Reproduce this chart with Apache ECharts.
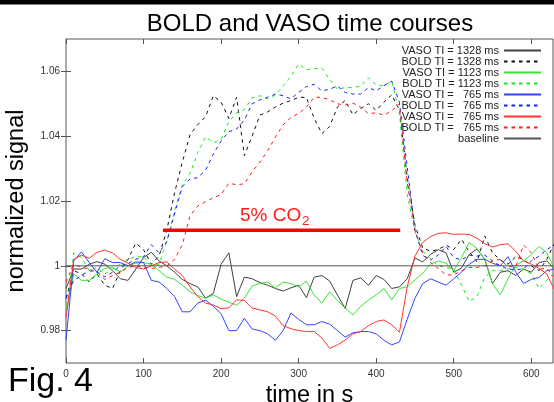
<!DOCTYPE html>
<html>
<head>
<meta charset="utf-8">
<title>BOLD and VASO time courses</title>
<script src="https://cdn.jsdelivr.net/npm/echarts@6.0.0/dist/echarts.min.js"></script>
<style>
html, body { margin: 0; padding: 0; background: #fff; }
#main { width: 554px; height: 402px; }
</style>
</head>
<body>
<div id="main"></div>
<script>
// time axis (s), one sample every 10 s
var times = [0, 10, 20, 30, 40, 50, 60, 70, 80, 90,
  100, 110, 120, 130, 140, 150, 160, 170, 180, 190,
  200, 210, 220, 230, 240, 250, 260, 270, 280, 290,
  300, 310, 320, 330, 340, 350, 360, 370, 380, 390,
  400, 410, 420, 430, 440, 450, 460, 470, 480, 490,
  500, 510, 520, 530, 540, 550, 560, 570, 580, 590,
  600, 610, 620, 630];

// VASO TI = 1328 ms (black solid)
var vaso1328 = [0.993, 0.999, 0.999, 1.0005, 1.0013, 1.0005, 0.9985, 0.996, 0.9955, 0.999,
  1.0025, 1.0042, 1.0015, 1.0, 0.998, 0.9958, 0.9945, 0.9935, 0.990, 0.9915,
  1.0005, 1.004, 0.9905, 0.9965, 0.996, 0.9948, 0.994, 0.993, 0.9922, 0.9932,
  0.994, 0.9902, 0.9965, 0.997, 0.9953, 0.991, 0.9868, 0.9955, 0.9963, 0.994,
  0.997, 0.9958, 0.993, 0.9935, 0.996, 1.0024, 1.0012, 1.0035, 1.005, 1.004,
  0.998, 0.9993, 1.0035, 1.0052, 1.002, 0.9945, 0.998, 0.9985, 0.997, 0.999,
  0.998, 1.001, 1.0015, 0.999];
// BOLD TI = 1328 ms (black dashed)
var bold1328 = [0.99, 0.9985, 0.9975, 0.995, 0.9975, 0.994, 0.993, 0.9985, 1.002, 1.007,
  1.005, 1.0005, 1.003, 1.011, 1.0225, 1.032, 1.0405, 1.0436, 1.046, 1.0525,
  1.0505, 1.0455, 1.052, 1.034, 1.04, 1.0465, 1.0475, 1.049, 1.0502, 1.051,
  1.052, 1.052, 1.0455, 1.0408, 1.043, 1.049, 1.051, 1.0466, 1.0486, 1.05,
  1.048, 1.0505, 1.0528, 1.048, 1.0274, 1.0125, 1.0055, 1.0045, 1.005, 1.0064,
  1.005, 1.0082, 1.0043, 1.0012, 1.0092, 1.004, 1.0018, 1.0005, 1.0028, 1.002,
  1.0, 0.9985, 1.002, 1.007];
// VASO TI = 1123 ms (green solid)
var vaso1123 = [0.985, 0.9975, 0.9955, 0.9955, 0.9975, 0.9992, 0.9995, 0.998, 1.0, 1.0008,
  1.001, 1.0005, 0.9985, 0.9965, 0.9958, 0.994, 0.992, 0.9908, 0.990, 0.991,
  0.9897, 0.9888, 0.9878, 0.990, 0.9938, 0.9945, 0.995, 0.9932, 0.995, 0.9945,
  0.9935, 0.9952, 0.991, 0.9885, 0.992, 0.9893, 0.987, 0.9848, 0.9875, 0.9894,
  0.991, 0.993, 0.9895, 0.993, 0.9935, 0.9956, 0.9977, 1.0005, 1.0015, 1.0008,
  0.9985, 1.0025, 1.0072, 1.0053, 1.002, 0.9945, 0.991, 0.996, 1.0002, 1.0015,
  1.0035, 1.006, 1.004, 0.999];
// BOLD TI = 1123 ms (green dashed)
var bold1123 = [0.985, 1.004, 1.0025, 0.9985, 0.9995, 0.9975, 0.999, 1.0005, 1.002, 1.0028,
  1.0028, 1.0, 1.0005, 1.0075, 1.017, 1.025, 1.0285, 1.035, 1.0398, 1.038,
  1.039, 1.0445, 1.0472, 1.0482, 1.0518, 1.0525, 1.0515, 1.0528, 1.0555, 1.0585,
  1.0623, 1.0605, 1.0608, 1.061, 1.0575, 1.0545, 1.055, 1.055, 1.0555, 1.058,
  1.0558, 1.0556, 1.057, 1.047, 1.022, 1.0105, 1.0045, 1.0022, 1.0, 0.9995,
  0.999, 0.994, 0.989, 0.9905, 0.9965, 0.9985, 0.9985, 0.999, 0.9995, 0.999,
  0.9975, 0.993, 0.9955, 0.998];
// VASO TI = 765 ms (blue solid)
var vaso765b = [0.977, 1.0015, 1.0043, 1.001, 0.998, 1.0022, 1.001, 1.001, 1.0, 1.0012,
  1.001, 0.9955, 0.995, 0.993, 0.9905, 0.9858, 0.9858, 0.9885, 0.9894, 0.9875,
  0.9852, 0.980, 0.980, 0.9838, 0.9805, 0.980, 0.979, 0.977, 0.980, 0.9854,
  0.9835, 0.9818, 0.9818, 0.9828, 0.982, 0.980, 0.978, 0.9793, 0.9797, 0.9797,
  0.979, 0.977, 0.9756, 0.9765, 0.9835, 0.990, 0.9945, 0.996, 0.995, 0.994,
  0.996, 0.998, 1.0005, 1.002, 1.002, 1.0008, 1.0, 1.0028, 0.998, 0.9946,
  0.9958, 0.9964, 0.9985, 0.999];
// BOLD TI = 765 ms (blue dashed)
var bold765b = [0.99, 0.9955, 0.997, 0.9985, 0.998, 0.9966, 0.998, 1.0, 1.0007, 1.002,
  1.0028, 1.0065, 1.004, 1.0075, 1.016, 1.0245, 1.0268, 1.0272, 1.0295, 1.0345,
  1.0385, 1.0414, 1.0422, 1.045, 1.05, 1.0512, 1.052, 1.053, 1.0525, 1.0515,
  1.0535, 1.0553, 1.056, 1.054, 1.0545, 1.0555, 1.0535, 1.053, 1.053, 1.055,
  1.054, 1.0556, 1.057, 1.0505, 1.0305, 1.011, 1.0032, 1.0018, 1.0033, 1.006,
  1.0025, 1.0018, 1.0033, 1.003, 1.0033, 1.0015, 1.0, 0.999, 0.9988, 0.999,
  1.0015, 1.003, 1.005, 1.0065];
// VASO TI = 765 ms (red solid)
var vaso765r = [0.984, 1.002, 1.0033, 1.0023, 1.0042, 1.0048, 1.004, 1.002, 1.0008, 0.9995,
  0.999, 1.0, 1.001, 1.0012, 0.999, 0.997, 0.9935, 0.9905, 0.9885, 0.9879,
  0.9868, 0.987, 0.9895, 0.9893, 0.987, 0.9864, 0.9858, 0.9845, 0.9815, 0.9806,
  0.980, 0.9797, 0.9797, 0.9777, 0.9745, 0.9756, 0.9771, 0.979, 0.9797, 0.9815,
  0.9828, 0.9833, 0.9818, 0.9795, 0.9935, 1.003, 1.0072, 1.009, 1.01, 1.0102,
  1.0097, 1.0098, 1.0097, 1.0085, 1.0068, 1.0058, 1.0065, 1.0068, 1.0045, 1.0015,
  1.0005, 0.9992, 0.9975, 0.9925];
// BOLD TI = 765 ms (red dashed)
var bold765r = [0.995, 1.0005, 0.9995, 0.999, 0.998, 0.9958, 0.997, 0.998, 0.9995, 1.0,
  0.9995, 0.9992, 0.9995, 1.0, 1.002, 1.0065, 1.0155, 1.0185, 1.0198, 1.021,
  1.022, 1.0255, 1.025, 1.0253, 1.029, 1.032, 1.0355, 1.0397, 1.0435, 1.0458,
  1.047, 1.049, 1.052, 1.052, 1.0512, 1.05, 1.0496, 1.0502, 1.049, 1.047,
  1.0472, 1.0465, 1.0478, 1.05, 1.0254, 1.011, 1.004, 1.001, 0.9992, 0.9972,
  0.9972, 0.9985, 0.9995, 0.9995, 1.0, 1.0015, 1.002, 0.9997, 0.9998, 1.0064,
  1.004, 0.999, 0.9992, 0.9965];

// baseline and CO2 period
var baseT = [0, 628];
var baseV = [1, 1];
var co2T = [125, 431];
var co2V = [1.011, 1.011];

var xTicks = [0, 100, 200, 300, 400, 500, 600];
var yTicks = [0.98, 1, 1.02, 1.04, 1.06];

var FONT = '"Liberation Sans", Arial, Helvetica, sans-serif';

function pairs(ts, vs) {
  return ts.map(function (t, i) { return [t, vs[i]]; });
}

function curve(name, ts, vs, color, dashed) {
  return {
    name: name,
    type: 'line',
    data: pairs(ts, vs),
    symbol: 'none',
    silent: true,
    itemStyle: { color: color },
    lineStyle: { color: color, width: 1, type: dashed ? [3.5, 4] : 'solid' }
  };
}

var series = [
  curve('VASO TI = 1328 ms', times, vaso1328, '#404040', false),
  curve('BOLD TI = 1328 ms', times, bold1328, '#111111', true),
  curve('VASO TI = 1123 ms', times, vaso1123, '#33e633', false),
  curve('BOLD TI = 1123 ms', times, bold1123, '#11ee11', true),
  curve('VASO TI =   765 ms', times, vaso765b, '#3344ff', false),
  curve('BOLD TI =   765 ms', times, bold765b, '#1122ff', true),
  curve('VASO TI =   765 ms ', times, vaso765r, '#ff3333', false),
  curve('BOLD TI =   765 ms ', times, bold765r, '#ff1a1a', true),
  curve('baseline', baseT, baseV, '#555555', false)
];
var co2 = curve('co2', co2T, co2V, '#ff0000', false);
co2.lineStyle.width = 3.5;
series.push(co2);

var axisTick = { inside: true, length: 5, lineStyle: { color: '#555' } };

var chart = echarts.init(document.getElementById('main'), null, { renderer: 'canvas' });
chart.setOption({
  animation: false,
  backgroundColor: '#fff',
  grid: { left: 66, right: 1, top: 39, bottom: 39, show: true, borderColor: '#555', borderWidth: 1,
    containLabel: false, outerBoundsMode: 'none' },
  legend: {
    data: series.slice(0, 9).map(function (s) { return s.name; }),
    orient: 'vertical',
    align: 'right',
    right: 12,
    top: 45,
    padding: 0,
    itemGap: 0,
    itemWidth: 37,
    itemHeight: 11,
    selectedMode: false,
    itemStyle: { opacity: 0 },
    formatter: function (n) { return n.trim(); },
    textStyle: { fontFamily: FONT, fontSize: 11, color: '#222' }
  },
  xAxis: [{
    type: 'value', min: 0, max: 628, position: 'bottom',
    name: 'time in s', nameLocation: 'middle', nameGap: 15,
    nameTextStyle: { fontFamily: FONT, fontSize: 23.5, color: '#000' },
    axisLine: { show: false }, splitLine: { show: false },
    axisTick: Object.assign({ customValues: xTicks }, axisTick),
    axisLabel: { customValues: xTicks, margin: 6, fontFamily: FONT, fontSize: 10, color: '#333' }
  }, {
    type: 'value', min: 0, max: 628, position: 'top',
    axisLine: { show: false }, splitLine: { show: false },
    axisTick: Object.assign({ customValues: xTicks }, axisTick),
    axisLabel: { show: false }
  }],
  yAxis: [{
    type: 'value', min: 0.97, max: 1.07, position: 'left',
    name: 'normalized signal', nameLocation: 'middle', nameGap: 37,
    nameTextStyle: { fontFamily: FONT, fontSize: 23.5, color: '#000' },
    axisLine: { show: false }, splitLine: { show: false },
    axisTick: Object.assign({ customValues: yTicks }, axisTick),
    axisLabel: {
      customValues: yTicks, margin: 6, fontFamily: FONT, fontSize: 10, color: '#333',
      formatter: function (v) { return Math.abs(v - 1) < 1e-9 ? '1' : v.toFixed(2); }
    }
  }, {
    type: 'value', min: 0.97, max: 1.07, position: 'right',
    axisLine: { show: false }, splitLine: { show: false },
    axisTick: Object.assign({ customValues: yTicks }, axisTick),
    axisLabel: { show: false }
  }],
  graphic: [
    { type: 'rect', z: -1, shape: { x: 0, y: 0, width: 554, height: 4.5 }, style: { fill: '#000' } },
    { type: 'text', z: -1, style: { x: 297, y: 8, text: '2007 Version.', fill: '#fff',
      font: '34px ' + FONT, verticalAlign: 'bottom' } },
    { type: 'text', style: { x: 310, y: 24, text: 'BOLD and VASO time courses', fill: '#000',
      font: '24px ' + FONT, align: 'center', verticalAlign: 'middle' } },
    { type: 'text', z: 10, style: { x: 240, y: 216, text: '5% CO', fill: '#ff1a1a',
      font: '19px ' + FONT, align: 'left', verticalAlign: 'middle' } },
    { type: 'text', z: 10, style: { x: 302, y: 221, text: '2', fill: '#ff1a1a',
      font: '13.5px ' + FONT, align: 'left', verticalAlign: 'middle' } },
    { type: 'text', style: { x: 8, y: 381.5, text: 'Fig. 4', fill: '#000',
      font: '34px ' + FONT, align: 'left', verticalAlign: 'middle' } }
  ],
  series: series
});
</script>
</body>
</html>
